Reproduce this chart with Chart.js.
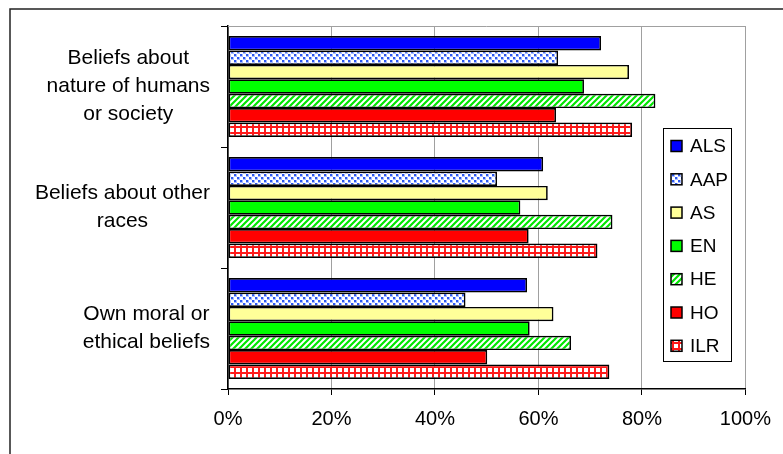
<!DOCTYPE html>
<html>
<head>
<meta charset="utf-8">
<script src="https://cdn.jsdelivr.net/npm/chart.js@4.4.1/dist/chart.umd.min.js"></script>
<style>
  html, body { margin: 0; padding: 0; background: #fff; }
  #chart { display: block; }
</style>
</head>
<body>
<canvas id="chart" width="783" height="454"></canvas>
<script>
// Data
const categories = [
  ["Beliefs about", "nature of humans", "or society"],
  ["Beliefs about other", "races"],
  ["Own moral or", "ethical beliefs"]
];
const seriesNames = ["ALS", "AAP", "AS", "EN", "HE", "HO", "ILR"];
const als = [72.1, 60.9, 57.8];
const aap = [63.8, 52.0, 45.9];
const as = [77.5, 61.8, 62.9];
const en = [68.8, 56.5, 58.3];
const he = [82.6, 74.3, 66.3];
const ho = [63.4, 58.1, 50.1];
const ilr = [78.1, 71.4, 73.7];
const xTicks = [0, 20, 40, 60, 80, 100];

const FONT = "'Liberation Sans', Arial, sans-serif";

// Fill patterns
function makeTile(w, h, draw) {
  const c = document.createElement("canvas");
  c.width = w;
  c.height = h;
  const g = c.getContext("2d");
  g.fillStyle = "#fff";
  g.fillRect(0, 0, w, h);
  draw(g);
  return document.getElementById("chart").getContext("2d").createPattern(c, "repeat");
}

const dotted = makeTile(6, 6, (g) => {
  g.fillStyle = "#a8bcff";
  g.fillRect(0, 0, 3, 3);
  g.fillRect(3, 3, 3, 3);
  g.fillStyle = "#2b58f2";
  g.fillRect(0, 0, 2, 2);
  g.fillRect(3, 3, 2, 2);
});

const diag = makeTile(6, 6, (g) => {
  g.strokeStyle = "#00e600";
  g.lineWidth = 2.2;
  g.beginPath();
  g.moveTo(-1, 1); g.lineTo(1, -1);
  g.moveTo(0, 6); g.lineTo(6, 0);
  g.moveTo(5, 7); g.lineTo(7, 5);
  g.stroke();
});

const grid = makeTile(6, 6, (g) => {
  g.fillStyle = "#ff1a1a";
  g.fillRect(0, 0, 6, 2);
  g.fillRect(0, 0, 2, 6);
});

const fills = ["#0000ff", dotted, "#ffff99", "#00ff00", diag, "#ff0000", grid];
const values = [als, aap, as, en, he, ho, ilr];

const datasets = seriesNames.map((name, i) => ({
  label: name,
  data: values[i],
  backgroundColor: fills[i],
  borderColor: "#000",
  borderWidth: 1.7,
  borderSkipped: false,
  barPercentage: 1,
  categoryPercentage: 0.833
}));

const decorations = {
  id: "decorations",
  beforeDatasetsDraw(chart) {
    const { ctx, chartArea } = chart;
    ctx.save();
    ctx.strokeStyle = "#a0a0a0";
    ctx.lineWidth = 1;
    ctx.beginPath();
    ctx.moveTo(chartArea.left, chartArea.top + 0.5);
    ctx.lineTo(chartArea.right, chartArea.top + 0.5);
    ctx.stroke();
    ctx.restore();
  },
  afterDraw(chart) {
    const { ctx } = chart;
    const yScale = chart.scales.y;
    ctx.save();

    // outer frame
    ctx.strokeStyle = "#222";
    ctx.lineWidth = 1.5;
    ctx.strokeRect(10, 9, 800, 500);

    // category labels: block right-aligned, lines centred
    ctx.fillStyle = "#000";
    ctx.font = "21px " + FONT;
    ctx.textAlign = "center";
    ctx.textBaseline = "middle";
    categories.forEach((lines, i) => {
      const cy = yScale.getPixelForValue(i);
      const blockW = Math.max(...lines.map((l) => ctx.measureText(l).width));
      const cx = 210 - blockW / 2;
      lines.forEach((line, j) => {
        ctx.fillText(line, cx, cy + (j - (lines.length - 1) / 2) * 28);
      });
    });

    // legend
    const lx = 663, ly = 128, lw = 68, lh = 233;
    ctx.fillStyle = "#fff";
    ctx.fillRect(lx, ly, lw, lh);
    ctx.strokeStyle = "#000";
    ctx.lineWidth = 1;
    ctx.strokeRect(lx + 0.5, ly + 0.5, lw, lh);
    ctx.font = "19px " + FONT;
    ctx.textAlign = "left";
    chart.data.datasets.forEach((ds, i) => {
      const y = 146 + i * 33.3;
      ctx.fillStyle = ds.backgroundColor;
      ctx.fillRect(671, y - 5.5, 11, 11);
      ctx.strokeStyle = "#000";
      ctx.lineWidth = 1.5;
      ctx.strokeRect(671, y - 5.5, 11, 11);
      ctx.fillStyle = "#000";
      ctx.fillText(ds.label, 690, y + 1);
    });
    ctx.restore();
  }
};

new Chart(document.getElementById("chart"), {
  type: "bar",
  data: {
    labels: categories.map((c) => c.join(" ")),
    datasets: datasets
  },
  options: {
    indexAxis: "y",
    responsive: false,
    animation: false,
    devicePixelRatio: 1,
    layout: {
      padding: { top: 26, right: 36, left: 0, bottom: 0 }
    },
    plugins: {
      legend: { display: false },
      tooltip: { enabled: false }
    },
    scales: {
      x: {
        min: 0,
        max: 100,
        afterBuildTicks(scale) {
          scale.ticks = xTicks.map((v) => ({ value: v }));
        },
        afterFit(scale) {
          scale.height = 454 - 389;
        },
        ticks: {
          color: "#000",
          font: { family: FONT, size: 20 },
          padding: 12,
          callback: (v) => v + "%"
        },
        grid: {
          color: "#a0a0a0",
          tickColor: "#000",
          tickLength: 6,
          lineWidth: 1
        },
        border: { color: "#000", width: 1.5 }
      },
      y: {
        type: "category",
        offset: true,
        afterFit(scale) {
          scale.width = 228;
        },
        ticks: { display: false },
        grid: {
          offset: true,
          drawOnChartArea: false,
          tickColor: "#000",
          tickLength: 7
        },
        border: { color: "#000", width: 1.5 }
      }
    }
  },
  plugins: [decorations]
});
</script>
</body>
</html>
